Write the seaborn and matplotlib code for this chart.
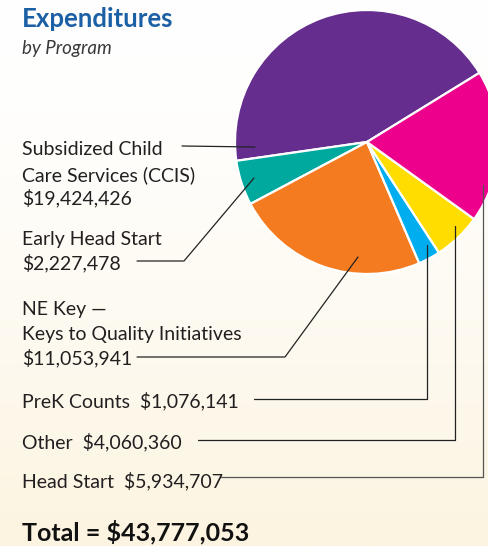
import numpy as np
import matplotlib
matplotlib.use("Agg")
import matplotlib.pyplot as plt
import seaborn as sns

# data
programs = ["Subsidized Child\nCare Services (CCIS)", "Early Head Start",
            "NE Key \u2014\nKeys to Quality Initiatives", "PreK Counts",
            "Other", "Head Start"]
amounts = [19424426, 2227478, 11053941, 1076141, 4060360, 5934707]
# slice sizes as drawn in the original graphic (percent of circle)
slice_pct = [43.5, 5.5, 23.7, 2.7, 5.9, 18.7]
colors = ["#652D8E", "#00A99D", "#F47B20", "#00AEEF", "#FFDD00", "#EC008C"]

sns.set_style("white")
plt.rcParams["font.family"] = ["Lato", "DejaVu Sans"]

W, H = 488, 546
fig = plt.figure(figsize=(W / 100, H / 100), dpi=100)
ax = fig.add_axes([0, 0, 1, 1])

# background gradient white -> cream
grad = np.linspace(0, 1, 256) ** 1.5
cream = np.array([252, 244, 224]) / 255
img = np.ones((256, 1, 3)) * (1 - grad[:, None, None]) + cream * grad[:, None, None]
ax.imshow(img, extent=[0, W, 0, H], origin="upper", aspect="auto", zorder=0)

# pie, pixel coords with y up
cx, cy, r = 367, H - 142, 132
ax.pie(slice_pct, colors=colors, startangle=31.6, counterclock=True,
       radius=r, center=(cx, cy),
       wedgeprops=dict(edgecolor="white", linewidth=1.6), frame=True)
ax.set_xlim(0, W)
ax.set_ylim(0, H)
ax.set_aspect("auto")
ax.axis("off")


def P(x, y):
    return x, H - y


def leader(pts, color="#222222"):
    xs = [p[0] for p in pts]
    ys = [H - p[1] for p in pts]
    ax.plot(xs, ys, color=color, lw=0.9, zorder=5)


txt = dict(fontsize=14, color="#231f20", va="baseline", ha="left")

ax.text(*P(22, 27), "Expenditures", fontsize=18.5, fontweight="bold",
        color="#1B5FA5", va="baseline")
ax.text(*P(22, 54), "by Program", fontsize=13.5, style="italic",
        fontweight="normal", color="#3a3a3a", va="baseline")

fmt = ["${:,}".format(a) for a in amounts]

ax.text(*P(22, 155), "Subsidized Child", **txt)
ax.text(*P(22, 181), "Care Services (CCIS)", **txt)
ax.text(*P(22, 204), fmt[0], **txt)
leader([(182, 146), (255, 147)])

ax.text(*P(22, 245), "Early Head Start", **txt)
ax.text(*P(22, 269), fmt[1], **txt)
leader([(137, 261), (184, 261), (254, 178)])

ax.text(*P(22, 315), "NE Key \u2014", **txt)
ax.text(*P(22, 340), "Keys to Quality Initiatives", **txt)
ax.text(*P(22, 364), fmt[2], **txt)
leader([(137, 357), (285, 357), (358, 257)])

ax.text(*P(22, 407), "PreK Counts  " + fmt[3], **txt)
leader([(254, 399), (427, 399), (427, 245)])

ax.text(*P(22, 448), "Other  " + fmt[4], **txt)
leader([(198, 440), (455, 440), (455, 226)])

ax.text(*P(22, 487), "Head Start  " + fmt[5], **txt)
leader([(221, 477), (483, 477), (483, 185)], color="#555555")

ax.text(*P(22, 540), "Total = ${:,}".format(sum(amounts)), fontsize=18,
        fontweight="bold", color="#111111", va="baseline")

fig.savefig("out.png", dpi=100)
